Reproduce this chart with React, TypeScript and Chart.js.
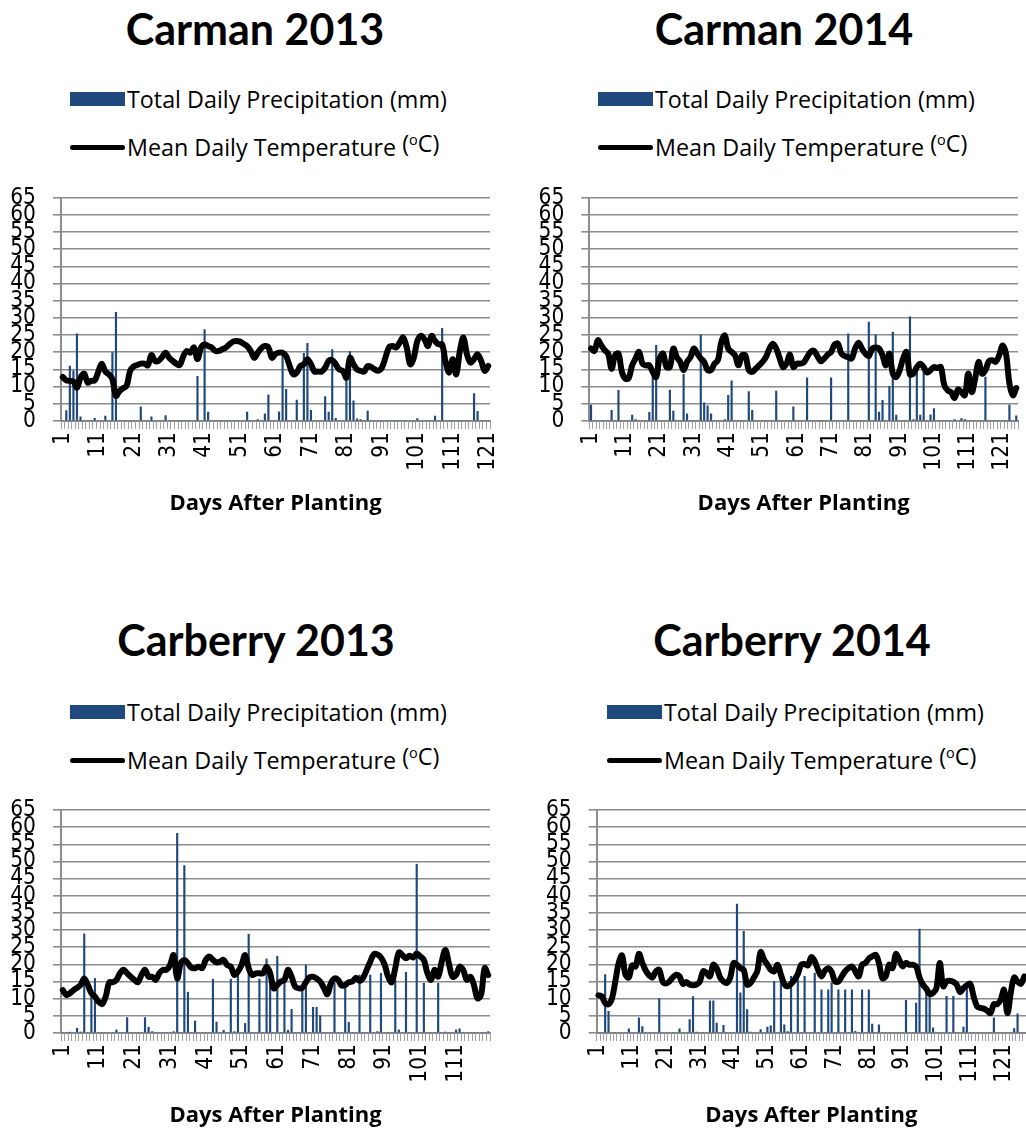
import React, { useEffect, useRef } from "react";
import { Chart, registerables } from "chart.js";

Chart.register(...registerables);

// ---------------- DATA ----------------
const carman2013Precip = [
  0, 3, 16, 14.6, 25.4, 1.2, 0, 0, 0, 0.8,
  0, 0, 1.4, 0, 19.9, 31.6, 0, 0, 0, 0,
  0, 0, 4.1, 0, 0, 1.2, 0, 0, 0, 1.6,
  0, 0, 0, 0, 0, 0, 0, 0, 13, 0,
  26.6, 2.6, 0, 0, 0, 0, 0, 0, 0, 0,
  0, 0, 2.6, 0, 0, 0.4, 0, 2.1, 7.6, 0,
  0, 2.7, 19.4, 9.2, 0, 0, 6.1, 0, 19.7, 22.6,
  3.1, 0, 0, 0, 7.1, 2.6, 20.8, 0.8, 0, 0,
  11.9, 20.2, 5.9, 0.6, 0.4, 0, 2.9, 0, 0, 0,
  0, 0, 0, 0, 0, 0, 0, 0, 0, 0,
  0.7, 0, 0, 0, 0, 1.4, 0, 27, 0, 0,
  0, 0, 0, 0, 0, 0, 8, 2.8, 0, 0,
  0,
];
const carman2013Temp = [
  12.8, 11.8, 11.7, 11.5, 9.7, 12.6, 13.8, 11.2, 11.7, 11.8,
  14.3, 16.7, 14.4, 13.6, 12.1, 7.3, 8.7, 9.5, 10.2, 14.6,
  15.9, 16.3, 16.7, 16.7, 16.2, 19.2, 17.5, 17.5, 18.6, 19.9,
  18.4, 17.5, 16.7, 16.3, 18.9, 20.4, 19.9, 21.4, 18, 21.4,
  22.3, 21.8, 21.4, 20.4, 20.4, 20.9, 21.4, 22.3, 23.1, 23.3,
  23.1, 22.5, 21.8, 20.4, 18.4, 19.9, 21.2, 21.8, 21.4, 18.4,
  19.5, 19.9, 19.9, 18.9, 16, 13.6, 14.1, 16, 16.5, 18,
  16.5, 14.4, 14.4, 14.4, 15.5, 17.5, 17.7, 16.5, 15, 14.6,
  12.6, 18.4, 16.5, 15, 14.6, 14.4, 16, 15.7, 15, 14.6,
  15.5, 18.4, 21.4, 21.8, 21.4, 22.8, 24.3, 21.4, 16.5, 18.4,
  23.3, 24.8, 23.8, 21.8, 24.8, 23.3, 22.3, 22.3, 17, 14.1,
  18, 13.6, 20.4, 24.3, 19.4, 17, 18, 19.4, 17.5, 14.6,
  16,
];

const carman2014Precip = [
  4.6, 0, 0, 0, 0, 0, 3.1, 0, 8.9, 0,
  0, 0, 1.7, 0.4, 0, 0, 0, 2.5, 14.3, 22,
  0, 0, 0, 9, 2.9, 0, 0, 13.6, 2.1, 0,
  0, 0, 25.1, 5.3, 4.4, 2.1, 0, 0, 0, 0.4,
  7.5, 11.7, 0, 0, 0, 0, 8.6, 3.1, 0, 0,
  0, 0, 0, 0, 8.7, 0, 0, 0, 0, 4.1,
  0, 0, 0, 12.6, 0, 0, 0, 0, 0, 0,
  12.6, 0, 0, 0, 0, 25.4, 0, 0, 0, 0,
  0, 28.8, 0, 25.1, 2.6, 6, 0, 10.1, 25.9, 1.7,
  0, 0, 0, 30.3, 0.4, 14.3, 1.7, 15.2, 0, 1.8,
  3.6, 0, 0, 0, 0, 0, 0.4, 0, 0.7, 0.4,
  0, 0, 0, 0, 0, 12.8, 0, 0, 0, 0,
  0, 0, 4.6, 0, 1.5,
];
const carman2014Temp = [
  21.1, 20.4, 23.5, 22, 20.6, 19.6, 15.2, 19.1, 19.6, 14.3,
  12.3, 12.5, 16.2, 18.2, 20.1, 16.7, 16.2, 16.2, 14.3, 12.8,
  18.2, 19.6, 15.7, 15.7, 21.1, 18.6, 17.2, 14.8, 17.2, 18.6,
  21.1, 19.6, 18.2, 17.2, 14.8, 14.8, 16.7, 17.7, 23, 24.9,
  21.1, 20.1, 19.1, 16.2, 19.1, 19.1, 14.8, 14.3, 15.2, 16.2,
  17.2, 18.6, 21, 22.5, 21.1, 18.3, 15.7, 16.7, 19.3, 15.7,
  16.7, 16.7, 17, 18.6, 20.1, 20.4, 18.9, 17.4, 18.2, 19.3,
  20.1, 22.2, 22.5, 19.6, 18.9, 18.6, 18.2, 21.1, 22.8, 21.1,
  19.6, 18.9, 21.1, 21.4, 21.1, 19.1, 16.2, 19.6, 13.8, 12.8,
  14.8, 18.2, 20.1, 13.5, 13.8, 15.7, 16.7, 15.7, 14.1, 14.8,
  15.7, 15.4, 15.7, 10.4, 8.9, 8.4, 6.7, 9.2, 8.4, 7.5,
  13.8, 8.4, 12.3, 17.2, 13.8, 14.8, 17.4, 17.7, 17.2, 19.1,
  22, 19.6, 10.9, 7.5, 9.6,
];

const carberry2013Precip = [
  0, 0, 0.2, 0, 1.4, 0.3, 28.9, 0, 11.5, 15.9,
  0, 0, 0, 0, 0, 0.9, 0, 0, 4.5, 0,
  0, 0, 0, 4.5, 1.7, 0.4, 0, 0, 0, 0,
  0, 0.4, 58.2, 0, 48.8, 11.9, 0, 3.5, 0, 0,
  0, 0, 15.7, 3.2, 0, 0.8, 0, 15.7, 0.4, 16.9,
  0, 2.8, 28.8, 0, 0, 15.7, 0, 21.6, 15, 0,
  22.4, 0, 14.5, 0.8, 6.9, 0, 0, 12.5, 19.8, 0,
  7.5, 7.5, 5, 0, 0, 0, 14.5, 0, 0, 13.2,
  3.1, 0, 0, 16.9, 0, 0, 16.9, 0, 0.4, 17.4,
  0, 0, 0, 15.5, 0.9, 0, 17.7, 0, 0, 49.2,
  0, 14.5, 0, 0, 0, 14.5, 0, 0.3, 0, 0,
  0.9, 1.2, 0, 0, 0, 0, 0, 0, 0, 0.4,
];
const carberry2013Temp = [
  12.5, 11.1, 11.6, 12.5, 13.2, 14, 15.9, 14, 11.6, 10.6,
  9.1, 8.4, 10.6, 14.8, 14.8, 15.5, 17.4, 18.4, 17.4, 16.4,
  15.5, 14.8, 16.9, 18.4, 16.4, 16.4, 15.5, 17.4, 18.4, 18.4,
  19.8, 22.7, 15.9, 20.3, 21.3, 20.3, 19, 18.9, 19.3, 18.9,
  21.3, 22.3, 21.3, 20.6, 20.8, 21.3, 19.8, 19.3, 16.9, 17.9,
  19.8, 22.7, 18.9, 16.9, 17.4, 17.4, 17.4, 19.3, 17.4, 13,
  14, 15, 15.5, 18.4, 16.4, 13.5, 13, 13.2, 14.8, 16.2,
  16.4, 15.9, 15, 13.2, 11.3, 14.5, 15.9, 15.5, 13.8, 14,
  14.8, 15, 16.1, 15.2, 16.1, 18.4, 20.8, 22.9, 22.9, 22,
  20, 16.4, 14.8, 18.9, 23.5, 22.7, 21.8, 22.5, 22, 23.2,
  22.3, 21.3, 17.4, 15.5, 18.4, 16.4, 20.8, 24.2, 20.3, 16.4,
  16.9, 19.3, 18.4, 15.5, 16.4, 14, 10.1, 11.1, 18.9, 16.9,
];

const carberry2014Precip = [
  0, 0, 17, 6.3, 0, 0, 0, 0, 0, 1.2,
  0, 0, 4.4, 1.9, 0, 0, 0, 0, 10, 0,
  0, 0, 0, 0, 1.2, 0, 0, 3.9, 10.6, 0.3,
  0, 0, 0, 9.4, 9.4, 2.9, 0, 2.2, 0, 0,
  0, 37.6, 11.7, 29.6, 6.8, 0.3, 0, 0, 1, 0,
  1.7, 2.1, 15, 0, 16.5, 2.4, 0.4, 16.5, 0, 16.5,
  0, 16.5, 0, 0, 17.5, 0, 12.6, 0, 12.6, 14.6,
  0, 12.6, 0, 12.6, 0, 12.6, 0.5, 0, 12.6, 0,
  12.6, 2.6, 0, 2.4, 0, 0, 0, 0, 0, 0,
  0, 9.5, 0, 0, 8.7, 30.3, 0, 12, 11.2, 1.5,
  0, 0, 0, 10.7, 0, 10.7, 0, 0, 1.7, 13.6,
  0, 0, 0, 0, 0, 0, 0, 4.4, 0, 0,
  0, 0, 0, 1.3, 5.6, 0, 0,
];
const carberry2014Temp = [
  11, 10.7, 8.7, 8.4, 10, 15, 20.4, 22.6, 17, 16.2,
  19.7, 19.4, 23.1, 20.4, 18.2, 16.8, 16.2, 18, 18.4, 15,
  14.4, 15, 16.2, 17, 16.5, 14.3, 14.9, 14.1, 13.9, 14.1,
  15, 18, 17.5, 16.5, 19.9, 18.9, 16.2, 15, 14.6, 16.2,
  20.4, 19.9, 18.9, 18.4, 14.1, 14.6, 16.2, 18, 23.6, 21.4,
  19.9, 18.4, 18, 19.9, 17, 14.3, 13.6, 14.3, 15.5, 17.2,
  19.9, 20.1, 19.7, 22.1, 20.9, 18.4, 16.5, 18.2, 18.9, 17.8,
  15, 15, 16.5, 18, 18.9, 19.4, 18, 16.5, 19.9, 20.4,
  21.7, 22.3, 22.8, 20.4, 16, 16.5, 19.9, 18.9, 23, 21.4,
  19.4, 20.4, 19.9, 19.9, 19.4, 16.2, 14.1, 12.9, 11.4, 11.7,
  13.1, 20.4, 13.6, 15, 15.2, 14.9, 14.1, 11.9, 13.1, 13.9,
  14.3, 10.7, 7.8, 7.3, 7.1, 6.5, 5.8, 8.4, 8.4, 9.7,
  12.6, 5.8, 11.7, 16.2, 15, 14.3, 16.5,
];

const Y_MIN = 0;
const Y_MAX = 65;
const Y_STEP = 5;
const X_LABEL_EVERY = 10;

const PRECIP_LABEL = "Total Daily Precipitation (mm)";
const TEMP_LABEL = "Mean Daily Temperature ";
const X_TITLE = "Days After Planting";

// ---------------- LAYOUT ----------------
type PanelCfg = {
  title: string;
  precip: number[];
  temp: number[];
  titleCx: number;
  titleCy: number;
  legendX: number;
  legendY: number;
  canvasLeft: number;
  canvasTop: number;
  canvasW: number;
  canvasH: number;
  plotLeft: number;
  plotRight: number;
  plotTop: number;
  xAxisH: number;
  titlePadBottom: number;
};

const PANELS: PanelCfg[] = [
  {
    title: "Carman 2013", precip: carman2013Precip, temp: carman2013Temp,
    titleCx: 255, titleCy: 29, legendX: 70, legendY: 99,
    canvasLeft: 0, canvasTop: 180, canvasW: 513, canvasH: 341,
    plotLeft: 61, plotRight: 490, plotTop: 197.7, xAxisH: 100, titlePadBottom: 4,
  },
  {
    title: "Carman 2014", precip: carman2014Precip, temp: carman2014Temp,
    titleCx: 784, titleCy: 29, legendX: 598, legendY: 99,
    canvasLeft: 513, canvasTop: 180, canvasW: 513, canvasH: 341,
    plotLeft: 589.3, plotRight: 1018, plotTop: 197.7, xAxisH: 100, titlePadBottom: 4,
  },
  {
    title: "Carberry 2013", precip: carberry2013Precip, temp: carberry2013Temp,
    titleCx: 256, titleCy: 640, legendX: 70, legendY: 712,
    canvasLeft: 0, canvasTop: 792, canvasW: 513, canvasH: 337,
    plotLeft: 61, plotRight: 490, plotTop: 810, xAxisH: 96, titlePadBottom: 0,
  },
  {
    title: "Carberry 2014", precip: carberry2014Precip, temp: carberry2014Temp,
    titleCx: 792, titleCy: 640, legendX: 607, legendY: 712,
    canvasLeft: 513, canvasTop: 792, canvasW: 513, canvasH: 337,
    plotLeft: 596.7, plotRight: 1026, plotTop: 810, xAxisH: 96, titlePadBottom: 0,
  },
];

const TICK_FONT = "'DejaVu Sans Condensed', 'DejaVu Sans', sans-serif";
const TITLE_FONT = "Lato, 'Open Sans', sans-serif";
const TEXT_FONT = "'Open Sans', Lato, sans-serif";
const GRID = "#8c8c8c";
const BAR_COLOR = "#1F497D";

function PanelChart({ cfg }: { cfg: PanelCfg }) {
  const ref = useRef<HTMLCanvasElement | null>(null);
  useEffect(() => {
    if (!ref.current) return;
    const labels = cfg.precip.map((_, i) => String(i + 1));
    const yAxisW = cfg.plotLeft - cfg.canvasLeft;
    const padRight = cfg.canvasLeft + cfg.canvasW - cfg.plotRight;
    const padTop = cfg.plotTop - cfg.canvasTop;
    const chart = new Chart(ref.current, {
      type: "bar",
      data: {
        labels,
        datasets: [
          {
            type: "line",
            label: "temp",
            data: cfg.temp,
            borderColor: "#000",
            backgroundColor: "#000",
            borderWidth: 6,
            pointRadius: 0,
            tension: 0.35,
            borderJoinStyle: "round",
            borderCapStyle: "round",
            order: 0,
          } as any,
          {
            type: "bar",
            label: "precip",
            data: cfg.precip,
            backgroundColor: BAR_COLOR,
            barThickness: 1.5,
            order: 1,
          } as any,
        ],
      },
      options: {
        animation: false,
        responsive: false,
        devicePixelRatio: 1,
        layout: { padding: { top: padTop, right: padRight, left: 0, bottom: 0 } },
        plugins: { legend: { display: false }, tooltip: { enabled: false }, title: { display: false } },
        scales: {
          x: {
            offset: true,
            grid: {
              display: true,
              drawOnChartArea: false,
              drawTicks: true,
              tickLength: 8,
              color: "#a0a0a0",
              lineWidth: 1,
              offset: true,
            },
            border: { display: true, color: GRID, width: 2 },
            ticks: {
              autoSkip: false,
              maxRotation: 90,
              minRotation: 90,
              padding: 3,
              color: "#000",
              font: { family: TICK_FONT, size: 22.5 },
              callback: (_v: any, i: number) => (i % X_LABEL_EVERY === 0 ? labels[i] : ""),
            },
            title: {
              display: true,
              text: X_TITLE,
              color: "#000",
              font: { family: TEXT_FONT, weight: "bold", size: 22 },
              padding: { top: 0, bottom: cfg.titlePadBottom },
            },
            afterFit: (s: any) => {
              s.height = cfg.xAxisH;
              s.paddingLeft = 0;
              s.paddingRight = 0;
            },
          } as any,
          y: {
            min: Y_MIN,
            max: Y_MAX,
            ticks: {
              stepSize: Y_STEP,
              autoSkip: false,
              padding: 17,
              color: "#000",
              font: { family: TICK_FONT, size: 22.5 },
            },
            grid: { color: GRID, lineWidth: 1.6, tickLength: 8 },
            border: { display: true, color: GRID, width: 2 },
            afterFit: (s: any) => {
              s.width = yAxisW;
              s.paddingTop = 0;
              s.paddingBottom = 0;
            },
          } as any,
        },
      },
    });
    return () => chart.destroy();
  }, [cfg]);

  return (
    <canvas
      ref={ref}
      width={cfg.canvasW}
      height={cfg.canvasH}
      style={{
        position: "absolute",
        left: cfg.canvasLeft,
        top: cfg.canvasTop,
        width: cfg.canvasW,
        height: cfg.canvasH,
      }}
    />
  );
}

function PanelText({ cfg }: { cfg: PanelCfg }) {
  const textStyle: React.CSSProperties = {
    position: "absolute",
    fontFamily: TEXT_FONT,
    fontSize: 23.3,
    lineHeight: "30px",
    color: "#000",
    whiteSpace: "nowrap",
  };
  return (
    <>
      <div
        style={{
          position: "absolute",
          left: cfg.titleCx - 250,
          width: 500,
          top: cfg.titleCy - 28,
          lineHeight: "56px",
          textAlign: "center",
          fontFamily: TITLE_FONT,
          fontWeight: 700,
          fontSize: 43,
          color: "#000",
          whiteSpace: "nowrap",
        }}
      >
        {cfg.title}
      </div>
      <div
        style={{
          position: "absolute",
          left: cfg.legendX,
          top: cfg.legendY - 7,
          width: 55,
          height: 14,
          background: BAR_COLOR,
        }}
      />
      <div style={{ ...textStyle, left: cfg.legendX + 57, top: cfg.legendY - 15.5 }}>{PRECIP_LABEL}</div>
      <div
        style={{
          position: "absolute",
          left: cfg.legendX,
          top: cfg.legendY + 48 - 2.5,
          width: 55,
          height: 5,
          borderRadius: 3,
          background: "#000",
        }}
      />
      <div style={{ ...textStyle, left: cfg.legendX + 57, top: cfg.legendY + 48 - 15.5 }}>
        {TEMP_LABEL}
        <span style={{ position: "relative", top: -4 }}>
          (<span style={{ fontSize: "0.62em", position: "relative", top: "-0.45em" }}>o</span>C)
        </span>
      </div>
    </>
  );
}

export default function App() {
  return (
    <div
      style={{
        position: "fixed",
        left: 0,
        top: 0,
        width: 1026,
        height: 1131,
        overflow: "hidden",
        background: "#fff",
      }}
    >
      {PANELS.map((p) => (
        <React.Fragment key={p.title}>
          <PanelText cfg={p} />
          <PanelChart cfg={p} />
        </React.Fragment>
      ))}
    </div>
  );
}
